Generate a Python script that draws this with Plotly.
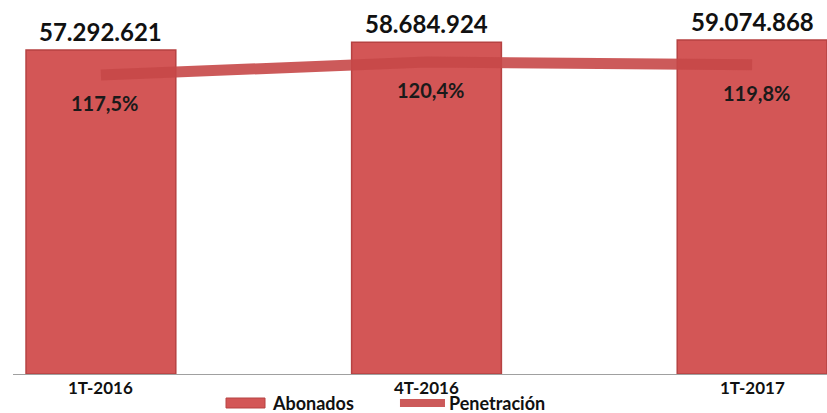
import plotly.graph_objects as go

# Quarterly mobile subscriptions and penetration rate
periodos = ["1T-2016", "4T-2016", "1T-2017"]
abonados = [57292621, 58684924, 59074868]
penetracion = [117.5, 120.4, 119.8]

BAR_FILL = "#d35656"
BAR_EDGE = "#b64242"
LINE_COLOR = "rgba(198,72,72,0.9)"
FONT = "Lato"


def miles(n):
    return f"{n:,}".replace(",", ".")


def pct(v):
    return f"{v:.1f}".replace(".", ",") + "%"


fig = go.Figure()

fig.add_trace(go.Bar(
    x=periodos, y=abonados, name="Abonados",
    marker=dict(color=BAR_FILL, line=dict(color=BAR_EDGE, width=1.5)),
    width=0.46, showlegend=False,
))

fig.add_trace(go.Scatter(
    x=periodos, y=penetracion, name="Penetración", yaxis="y2",
    mode="lines", line=dict(color=LINE_COLOR, width=11),
    showlegend=False,
))

annotations = []
# subscriber counts above each bar
for p, a in zip(periodos, abonados):
    annotations.append(dict(
        x=p, y=a, xref="x", yref="y", text=f"<b>{miles(a)}</b>",
        showarrow=False, yanchor="bottom", yshift=2,
        font=dict(family=FONT, size=24, color="#111111"),
    ))
# penetration values under the line
for p, v in zip(periodos, penetracion):
    annotations.append(dict(
        x=p, y=v, xref="x", yref="y2", text=f"<b>{pct(v)}</b>",
        showarrow=False, yanchor="middle", yshift=-28, xshift=4,
        font=dict(family=FONT, size=20, color="#1a1a1a"),
    ))
# category labels just under the axis line
for p in periodos:
    annotations.append(dict(
        x=p, y=0, xref="x", yref="y", text=f"<b>{p}</b>",
        showarrow=False, yanchor="top", yshift=-1,
        font=dict(family=FONT, size=17, color="#111111"),
    ))

# legend drawn below the axis
leg_y = -0.0775
annotations.append(dict(
    x=0.3157, y=leg_y, xref="paper", yref="paper", text="<b>Abonados</b>",
    showarrow=False, xanchor="left", yanchor="middle",
    font=dict(family=FONT, size=18, color="#111111"),
))
annotations.append(dict(
    x=0.5332, y=leg_y, xref="paper", yref="paper", text="<b>Penetración</b>",
    showarrow=False, xanchor="left", yanchor="middle",
    font=dict(family=FONT, size=18, color="#111111"),
))
shapes = [
    dict(type="rect", xref="paper", yref="paper",
         x0=0.2617, x1=0.3096, y0=-0.0909, y1=-0.0642,
         fillcolor=BAR_FILL, line=dict(color=BAR_EDGE, width=1)),
    dict(type="line", xref="paper", yref="paper",
         x0=0.4754, x1=0.5307, y0=leg_y, y1=leg_y,
         line=dict(color=LINE_COLOR, width=8)),
]

fig.update_layout(
    width=827, height=413,
    margin=dict(l=13, r=0, t=0, b=39),
    paper_bgcolor="white", plot_bgcolor="white",
    xaxis=dict(
        range=[-0.27, 2.23], showgrid=False, zeroline=False,
        showline=True, linecolor="#a0a0a0", linewidth=1,
        ticks="", showticklabels=False,
    ),
    yaxis=dict(range=[0, 66.14e6], visible=False, showgrid=False),
    yaxis2=dict(range=[51.06, 134.17], overlaying="y", visible=False,
                showgrid=False),
    annotations=annotations,
    shapes=shapes,
    showlegend=False,
)

fig.write_html("out.html")
